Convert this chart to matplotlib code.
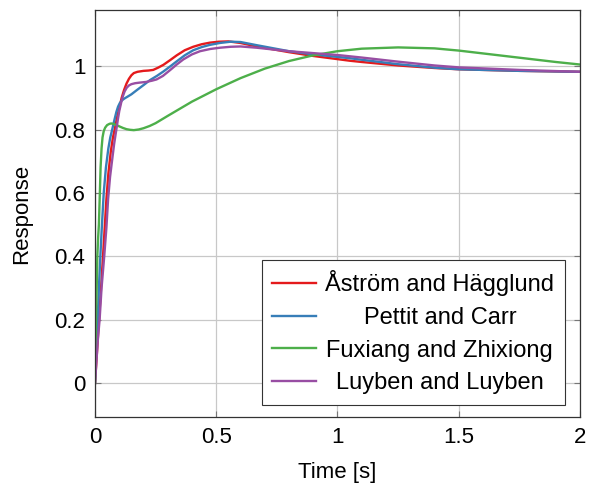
import matplotlib
matplotlib.use("Agg")
import matplotlib.pyplot as plt

plt.rcParams['font.family'] = ['Liberation Sans', 'DejaVu Sans']

# step responses
t_ah = [0, 0.01, 0.0165, 0.025, 0.033, 0.04, 0.047, 0.055, 0.065, 0.074, 0.0825, 0.09, 0.1, 0.11, 0.12,
        0.13, 0.14, 0.15, 0.16, 0.175, 0.2, 0.22, 0.24, 0.26, 0.282, 0.31, 0.337, 0.37, 0.405, 0.44,
        0.474, 0.51, 0.55, 0.6, 0.667, 0.8, 0.9, 1.0, 1.05, 1.1, 1.25, 1.4, 1.5, 1.75, 2.0]
r_ah = [0, 0.12, 0.2, 0.3, 0.4, 0.49, 0.58, 0.66, 0.73, 0.775, 0.805, 0.835, 0.868, 0.9, 0.925,
        0.945, 0.96, 0.971, 0.978, 0.982, 0.985, 0.986, 0.988, 0.995, 1.004, 1.019, 1.034, 1.05, 1.061, 1.069,
        1.074, 1.077, 1.078, 1.073, 1.062, 1.044, 1.032, 1.022, 1.017, 1.013, 1.002, 0.994, 0.99, 0.985, 0.982]

t_pc = [0, 0.005, 0.011, 0.016, 0.022, 0.028, 0.036, 0.045, 0.055, 0.063, 0.071, 0.08, 0.088, 0.095, 0.102,
        0.11, 0.118, 0.124, 0.135, 0.15, 0.172, 0.2, 0.227, 0.255, 0.282, 0.31, 0.337, 0.37, 0.405, 0.44,
        0.474, 0.515, 0.56, 0.6, 0.667, 0.8, 0.9, 1.0, 1.05, 1.1, 1.25, 1.4, 1.5, 1.75, 2.0]
r_pc = [0, 0.1, 0.2, 0.3, 0.4, 0.49, 0.6, 0.68, 0.74, 0.775, 0.8, 0.83, 0.855, 0.872, 0.883,
        0.891, 0.896, 0.899, 0.904, 0.911, 0.924, 0.94, 0.956, 0.969, 0.983, 0.999, 1.015, 1.034, 1.05, 1.06,
        1.067, 1.073, 1.077, 1.076, 1.066, 1.047, 1.037, 1.029, 1.025, 1.02, 1.006, 0.995, 0.99, 0.985, 0.982]

t_fz = [0, 0.002, 0.004, 0.007, 0.0096, 0.013, 0.016, 0.02, 0.023, 0.027, 0.031, 0.036, 0.042, 0.05, 0.06,
        0.067, 0.075, 0.085, 0.1, 0.115, 0.13, 0.145, 0.16, 0.18, 0.2, 0.225, 0.25, 0.3, 0.4, 0.5,
        0.6, 0.7, 0.8, 0.9, 1.0, 1.1, 1.25, 1.4, 1.5, 1.6, 1.7, 1.8, 1.9, 2.0]
r_fz = [0, 0.1, 0.2, 0.3, 0.4, 0.46, 0.5, 0.6, 0.68, 0.74, 0.775, 0.795, 0.806, 0.814, 0.818,
        0.819, 0.818, 0.815, 0.81, 0.805, 0.801, 0.799, 0.798, 0.8, 0.804, 0.811, 0.82, 0.843, 0.888, 0.927,
        0.962, 0.992, 1.016, 1.034, 1.047, 1.055, 1.059, 1.056, 1.049, 1.04, 1.031, 1.022, 1.013, 1.005]

t_ll = [0, 0.006, 0.012, 0.019, 0.027, 0.038, 0.047, 0.054, 0.062, 0.07, 0.079, 0.088, 0.095, 0.1, 0.108,
        0.115, 0.122, 0.131, 0.14, 0.15, 0.165, 0.185, 0.21, 0.235, 0.254, 0.28, 0.309, 0.337, 0.364, 0.4,
        0.433, 0.475, 0.515, 0.56, 0.6, 0.667, 0.8, 0.9, 1.0, 1.05, 1.1, 1.25, 1.4, 1.5, 1.75, 2.0]
r_ll = [0, 0.07, 0.14, 0.2, 0.3, 0.4, 0.49, 0.58, 0.65, 0.7, 0.755, 0.8, 0.835, 0.858, 0.885,
        0.905, 0.92, 0.932, 0.939, 0.943, 0.946, 0.948, 0.95, 0.954, 0.958, 0.969, 0.987, 1.005, 1.021, 1.037,
        1.047, 1.054, 1.058, 1.061, 1.062, 1.058, 1.047, 1.041, 1.035, 1.031, 1.027, 1.014, 1.002, 0.996, 0.988, 0.982]

labels = ["Åström and Hägglund", "Pettit and Carr", "Fuxiang and Zhixiong", "Luyben and Luyben"]
colors = ["#e41a1c", "#377eb8", "#4daf4a", "#984ea3"]

fig = plt.figure(figsize=(5.89, 4.88), dpi=100)
ax = fig.add_axes([0.1613, 0.1455, 0.8234, 0.834])

series = [(t_ah, r_ah), (t_pc, r_pc), (t_fz, r_fz), (t_ll, r_ll)]
for (tt, rr), lab, col in zip(series, labels, colors):
    ax.plot(tt, rr, color=col, lw=1.7, label=lab, solid_joinstyle='round')

ax.set_xlim(0, 2)
ax.set_ylim(-0.107, 1.177)
ax.set_xticks([0, 0.5, 1, 1.5, 2])
ax.set_xticklabels(["0", "0.5", "1", "1.5", "2"])
ax.set_yticks([0, 0.2, 0.4, 0.6, 0.8, 1])
ax.set_yticklabels(["0", "0.2", "0.4", "0.6", "0.8", "1"])
ax.grid(True, color='#c8c8c8', lw=0.9)
ax.set_axisbelow(True)
ax.tick_params(direction='in', length=4, width=0.8, color='#777777', labelsize=16,
               top=True, right=True, pad=7)
for s in ax.spines.values():
    s.set_linewidth(0.9)
    s.set_color('#333333')

ax.set_xlabel("Time [s]", fontsize=16, labelpad=10)
ax.set_ylabel("Response", fontsize=16, labelpad=16)

leg = ax.legend(loc='lower right', bbox_to_anchor=(0.969, 0.0295), borderaxespad=0,
                fontsize=17, frameon=True, fancybox=False, framealpha=1,
                edgecolor='#333333', handlelength=1.86, handletextpad=0.38,
                labelspacing=0.45, borderpad=0.45)
leg.get_frame().set_linewidth(0.8)

# center the legend text like the original
fig.canvas.draw()
rend = fig.canvas.get_renderer()
widths = [tx.get_window_extent(rend).width for tx in leg.get_texts()]
w = max(widths)
for tx, wi in zip(leg.get_texts(), widths):
    tx.set_position(((w - wi) / 2, 0))

fig.savefig("out.png", dpi=100)
